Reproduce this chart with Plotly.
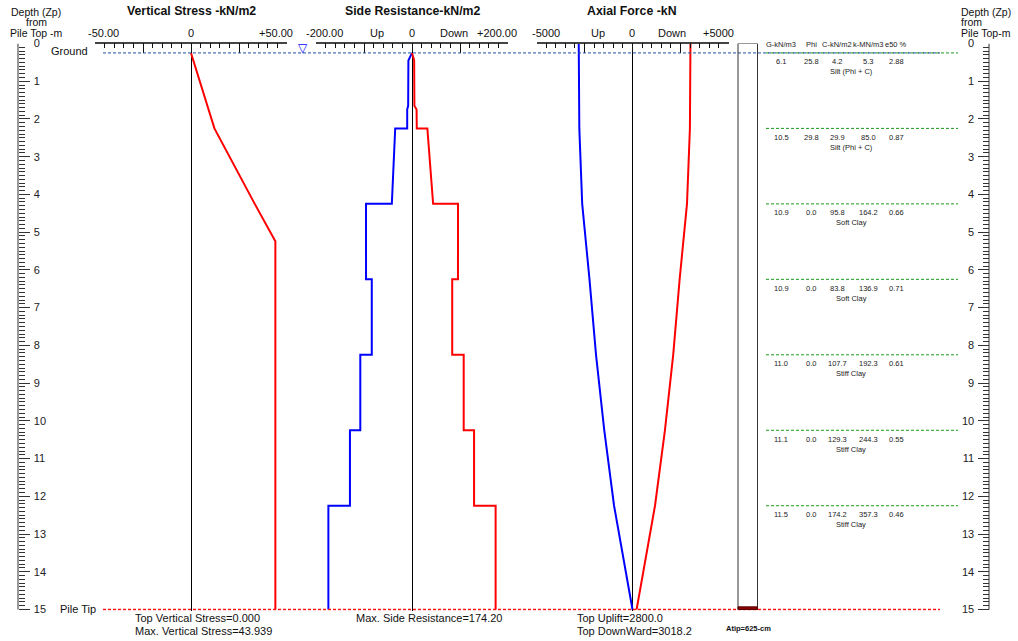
import plotly.graph_objects as go

# ---------------- data ----------------
pile_tip = 15.0
ground_depth = 0.25

# vertical effective stress (kN/m2) versus depth (m)
vs_depth = [0.25, 2.25, 4.25, 5.24, 15.0]
vs_value = [0.0, 12.2, 33.2, 43.939, 43.939]

# unit side resistance (kN/m2): downward (positive) and uplift (negative)
sr_depth = [0.25, 0.45, 1.65, 1.75, 2.25, 2.25, 4.25, 4.25, 6.25, 6.25,
            8.25, 8.25, 10.25, 10.25, 12.25, 12.25, 15.0]
sr_down = [0.0, 4.5, 5.0, 9.5, 10.0, 32.0, 44.0, 95.8, 95.8, 83.8,
           83.8, 107.7, 107.7, 129.3, 129.3, 174.2, 174.2]
sr_up = [0.0, -7.5, -8.0, -10.0, -10.0, -35.0, -42.0, -95.8, -95.8, -83.8,
         -83.8, -107.7, -107.7, -129.3, -129.3, -174.2, -174.2]

# axial force (kN) along the pile
af_depth = [0.0, 0.25, 2.25, 4.25, 6.25, 8.25, 10.25, 12.25, 15.0]
af_uplift = [-2800.0, -2800.0, -2770.0, -2620.0, -2240.0, -1900.0, -1470.0, -960.0, 0.0]
af_down = [3018.2, 3018.2, 2990.0, 2838.0, 2455.0, 2120.0, 1689.0, 1172.0, 214.0]

# soil layers: top depth and properties
layer_top = [0.25, 2.25, 4.25, 6.25, 8.25, 10.25, 12.25]
layer_gamma = ["6.1", "10.5", "10.9", "10.9", "11.0", "11.1", "11.5"]
layer_phi = ["25.8", "29.8", "0.0", "0.0", "0.0", "0.0", "0.0"]
layer_c = ["4.2", "29.9", "95.8", "83.8", "107.7", "129.3", "174.2"]
layer_k = ["5.3", "85.0", "164.2", "136.9", "192.3", "244.3", "357.3"]
layer_e50 = ["2.88", "0.87", "0.66", "0.71", "0.61", "0.55", "0.46"]
layer_name = ["Silt (Phi + C)", "Silt (Phi + C)", "Soft Clay", "Soft Clay",
              "Stiff Clay", "Stiff Clay", "Stiff Clay"]
table_headers = ["G-kN/m3", "Phi", "C-kN/m2", "k-MN/m3", "e50 %"]

depth_ticks = list(range(0, 16))

# ---------------- layout helpers ----------------
W, H = 1018, 641
FONT = "Liberation Sans, Arial, sans-serif"
NARROW = "Liberation Sans Narrow, Liberation Sans, Arial, sans-serif"


def fx(p):
    return p / W


def fy(p):
    return 1 - p / H


RED = "#ff0000"
BLUE = "#0000ff"

fig = go.Figure()

fig.add_trace(go.Scatter(x=vs_value, y=vs_depth, mode="lines",
                         line=dict(color=RED, width=2), xaxis="x", yaxis="y"))
fig.add_trace(go.Scatter(x=sr_up, y=sr_depth, mode="lines",
                         line=dict(color=BLUE, width=2), xaxis="x2", yaxis="y"))
fig.add_trace(go.Scatter(x=sr_down, y=sr_depth, mode="lines",
                         line=dict(color=RED, width=2), xaxis="x2", yaxis="y"))
fig.add_trace(go.Scatter(x=af_uplift, y=af_depth, mode="lines",
                         line=dict(color=BLUE, width=2), xaxis="x3", yaxis="y"))
fig.add_trace(go.Scatter(x=af_down, y=af_depth, mode="lines",
                         line=dict(color=RED, width=2), xaxis="x3", yaxis="y"))
# carrier for the right-hand depth ruler
fig.add_trace(go.Scatter(x=[0], y=[0], mode="markers", marker=dict(opacity=0),
                         xaxis="x", yaxis="y2", hoverinfo="skip"))

# a small pad below the tip keeps the tip line fully visible
y_range = [pile_tip + 0.03, 0]
ydom = [fy(609.5 + 0.03 * 37.67), fy(43.5)]


def ruler_axis(dom, rng, major, minor):
    return dict(domain=dom, range=rng, anchor="y", side="top",
                showline=True, linecolor="#444", linewidth=1.5,
                ticks="inside", ticklen=10, tickcolor="#111", tickwidth=1,
                tick0=0, dtick=major, showticklabels=False, showgrid=False,
                zeroline=True, zerolinecolor="#000", zerolinewidth=1,
                minor=dict(ticks="inside", ticklen=5, tickcolor="#111",
                           tickwidth=1, dtick=minor, tick0=0, showgrid=False),
                automargin=False, fixedrange=True)


def depth_axis(side, pos, **kw):
    return dict(range=y_range, domain=ydom, anchor="free", position=pos,
                side=side, showline=False, automargin=False,
                ticks="inside", ticklen=11, tickcolor="#333",
                tickvals=depth_ticks, ticklabelposition="inside",
                ticklabelstandoff=3, ticklabeloverflow="allow",
                tickfont=dict(family=FONT, size=11, color="#222"),
                showgrid=False, zeroline=False,
                minor=dict(ticks="inside", ticklen=6, tickcolor="#333",
                           dtick=0.1, tick0=0, showgrid=False),
                fixedrange=True, **kw)


fig.update_layout(
    width=W, height=H, margin=dict(l=0, r=0, t=0, b=0, autoexpand=False),
    paper_bgcolor="white", plot_bgcolor="white", showlegend=False,
    xaxis=ruler_axis([fx(95), fx(287)], [-50, 50], 25, 5),
    xaxis2=ruler_axis([fx(316), fx(508)], [-200, 200], 100, 20),
    xaxis3=ruler_axis([fx(536.5), fx(728.5)], [-5000, 5000], 2500, 500),
    yaxis=depth_axis("left", fx(18)),
    yaxis2=depth_axis("right", fx(989), overlaying="y"),
)

shapes = []
# depth ruler spines, from pile top to pile tip
for xr in (18, 989):
    shapes.append(dict(type="line", xref="paper", yref="y", x0=fx(xr), x1=fx(xr),
                       y0=0, y1=pile_tip, line=dict(color="#333", width=1)))
# layer boundaries (table area)
for d in layer_top:
    shapes.append(dict(type="line", xref="paper", yref="y", x0=fx(766), x1=fx(958),
                       y0=d, y1=d, line=dict(color="#1a9a1a", width=1, dash="3px,2px")))
# ground line
shapes.append(dict(type="line", xref="paper", yref="y", x0=fx(103), x1=fx(940),
                   y0=ground_depth, y1=ground_depth,
                   line=dict(color="#1f4fa0", width=1, dash="3px,2px")))
# pile tip line
shapes.append(dict(type="line", xref="paper", yref="y", x0=fx(103), x1=fx(940),
                   y0=pile_tip, y1=pile_tip,
                   line=dict(color="#ff1010", width=1.5, dash="3px,2px")))
# pile body and tip
shapes.append(dict(type="rect", xref="paper", yref="y", x0=fx(738), x1=fx(757.5),
                   y0=0, y1=pile_tip, line=dict(color="#333", width=1)))
shapes.append(dict(type="rect", xref="paper", yref="y", x0=fx(738), x1=fx(757.5),
                   y0=pile_tip - 0.07, y1=pile_tip, fillcolor="#8b0000",
                   line=dict(color="#5a0000", width=1)))
fig.update_layout(shapes=shapes)

ann = []


def text(x, y, s, size=11, bold=False, anchor="center", family=FONT, color="#111"):
    ann.append(dict(xref="paper", yref="paper", x=fx(x), y=fy(y),
                    text=f"<b>{s}</b>" if bold else s, showarrow=False,
                    xanchor=anchor, yanchor="middle",
                    font=dict(family=family, size=size, color=color)))


# panel titles
text(191, 11, "Vertical Stress -kN/m2", 12.3, bold=True)
text(412, 11, "Side Resistance-kN/m2", 12.3, bold=True)
text(632, 11, "Axial Force -kN", 12.3, bold=True)

# ruler labels
for x, s in [(103, "-50.00"), (191, "0"), (276, "+50.00"),
             (324, "-200.00"), (377, "Up"), (412, "0"), (454, "Down"), (497, "+200.00"),
             (546, "-5000"), (598, "Up"), (632, "0"), (672, "Down"), (718, "+5000")]:
    text(x, 33, s, 11)

# depth axis titles
for y, s in [(12, "Depth (Zp)"), (22, "from"), (33, "Pile Top -m")]:
    text(36, y, s, 10.5)
for y, s in [(12, "Depth (Zp)"), (22, "from"), (33, "Pile Top-m")]:
    text(959, y, s, 10.5, anchor="left")

text(90, 51, "Ground", 11, anchor="right")
text(98, 609, "Pile Tip", 11, anchor="right")
text(302.5, 48, "▽", 12, color=BLUE)

# summary notes
text(133, 618, "Top Vertical Stress=0.000", 11, anchor="left")
text(133, 631, "Max. Vertical Stress=43.939", 11, anchor="left")
text(354, 618, "Max. Side Resistance=174.20", 11, anchor="left")
text(575, 618, "Top Uplift=2800.0", 11, anchor="left")
text(575, 631, "Top DownWard=3018.2", 11, anchor="left")
text(748, 628, "Atip=625-cm", 7.5, bold=True, family=NARROW)

# soil table
col_x = [781, 811, 837, 868, 896]
for cx, h in zip(col_x, table_headers):
    text(cx, 44, h, 7.5, family=NARROW, color="#222")
for i, d in enumerate(layer_top):
    vals = [layer_gamma[i], layer_phi[i], layer_c[i], layer_k[i], layer_e50[i]]
    for cx, v in zip(col_x, vals):
        ann.append(dict(xref="paper", yref="y", x=fx(cx), y=d, yshift=-9,
                        text=v, showarrow=False, xanchor="center", yanchor="middle",
                        font=dict(family=NARROW, size=7.5, color="#222")))
    ann.append(dict(xref="paper", yref="y", x=fx(851), y=d, yshift=-19,
                    text=layer_name[i], showarrow=False, xanchor="center",
                    yanchor="middle", font=dict(family=NARROW, size=7.5, color="#222")))

fig.update_layout(annotations=ann)

fig.write_html("out.html")
